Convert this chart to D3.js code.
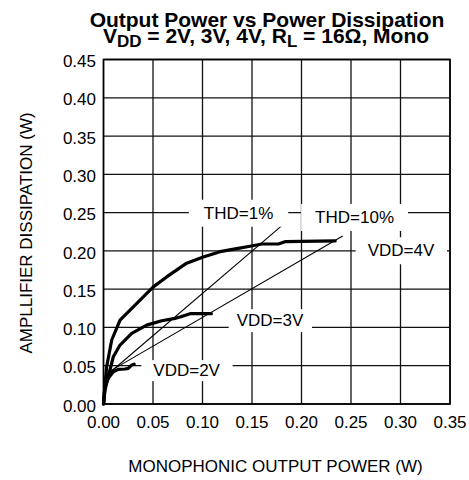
<!DOCTYPE html>
<html>
<head>
<meta charset="utf-8">
<script src="https://cdn.jsdelivr.net/npm/d3@7"></script>
<style>
html,body{margin:0;padding:0;background:#fff;}
text{font-family:"Liberation Sans",Arial,sans-serif;fill:#000;}
</style>
</head>
<body>
<svg id="chart" width="469" height="480"></svg>
<script>
// ---- data ----
const xTicks = [0.00, 0.05, 0.10, 0.15, 0.20, 0.25, 0.30, 0.35];
const yTicks = [0.00, 0.05, 0.10, 0.15, 0.20, 0.25, 0.30, 0.35, 0.40, 0.45];

const vdd4x = [0, 0.0005, 0.0032, 0.0083, 0.0167, 0.0301, 0.0503, 0.0638, 0.084, 0.1008, 0.1177, 0.1345, 0.148, 0.160, 0.1766, 0.1833, 0.234];
const vdd4y = [0, 0.0095, 0.0487, 0.0836, 0.1097, 0.127, 0.153, 0.166, 0.184, 0.192, 0.199, 0.203, 0.206, 0.209, 0.209, 0.212, 0.213];

const vdd3x = [0, 0.0015, 0.0048, 0.0099, 0.0167, 0.0285, 0.0436, 0.0588, 0.0722, 0.0773, 0.0874, 0.109];
const vdd3y = [0, 0.018, 0.0356, 0.0617, 0.077, 0.0923, 0.103, 0.1087, 0.1119, 0.1136, 0.118, 0.118];

const vdd2x = [0, 0.0015, 0.0048, 0.0099, 0.015, 0.0217, 0.025, 0.0285, 0.031];
const vdd2y = [0, 0.0226, 0.0335, 0.0422, 0.0453, 0.0457, 0.0466, 0.0509, 0.052];

const thd1x = [0.0035, 0.1843];
const thd1y = [0.0379, 0.2376];
const thd10x = [0.004, 0.2416];
const thd10y = [0.041, 0.2195];

const labelText = ["THD=1%", "THD=10%", "VDD=4V", "VDD=3V", "VDD=2V"];
const labelX = [0.1364, 0.2536, 0.3005, 0.1682, 0.084];
const labelY = [0.2500, 0.2445, 0.2010, 0.1097, 0.0444];

// ---- chart ----
const svg = d3.select("#chart");
const L = 103.5, R = 450, T = 59.5, B = 404;
const x = d3.scaleLinear().domain([0, 0.35]).range([L, R]);
const y = d3.scaleLinear().domain([0, 0.45]).range([B, T]);
const labelPad = [[15, 8], [14, 8], [12, 8], [8, 4], [12, 2]];

// grid
const g = svg.append("g");
g.selectAll(".vg").data(xTicks).join("line")
  .attr("x1", d => x(d)).attr("x2", d => x(d)).attr("y1", T).attr("y2", B)
  .attr("stroke", "#111").attr("stroke-width", 1.3);
g.selectAll(".hg").data(yTicks).join("line")
  .attr("y1", d => y(d)).attr("y2", d => y(d)).attr("x1", L).attr("x2", R)
  .attr("stroke", "#111").attr("stroke-width", 1.3);
svg.append("rect").attr("x", L).attr("y", T).attr("width", R - L).attr("height", B - T)
  .attr("fill", "none").attr("stroke", "#000").attr("stroke-width", 1.6);

// thin THD lines
const line = d3.line().x(d => x(d[0])).y(d => y(d[1]));
[[thd1x, thd1y], [thd10x, thd10y]].forEach(([xs, ys]) => {
  svg.append("path").datum(xs.map((v, i) => [v, ys[i]]))
    .attr("d", line).attr("fill", "none").attr("stroke", "#000").attr("stroke-width", 1.1);
});

// curves
[[vdd4x, vdd4y], [vdd3x, vdd3y], [vdd2x, vdd2y]].forEach(([xs, ys]) => {
  svg.append("path").datum(xs.map((v, i) => [v, ys[i]]))
    .attr("d", line).attr("fill", "none").attr("stroke", "#000")
    .attr("stroke-width", 3.2).attr("stroke-linejoin", "round").attr("stroke-linecap", "round");
});

// labels with white backgrounds
labelText.forEach((txt, i) => {
  const t = svg.append("text").attr("x", x(labelX[i])).attr("y", y(labelY[i]))
    .attr("text-anchor", "middle").attr("dy", "0.36em")
    .style("font-size", "17px").text(txt);
  const bb = t.node().getBBox();
  const p = labelPad[i];
  svg.insert("rect", function(){ return t.node(); })
    .attr("x", bb.x - p[0]).attr("y", bb.y - p[1] / 2)
    .attr("width", bb.width + 2 * p[0]).attr("height", bb.height + p[1])
    .attr("fill", "#fff");
});

// axes tick labels
svg.selectAll(".xt").data(xTicks).join("text")
  .attr("x", d => x(d)).attr("y", 428).attr("text-anchor", "middle")
  .style("font-size", "17px").text(d => d3.format(".2f")(d));
svg.selectAll(".yt").data(yTicks).join("text")
  .attr("x", 96).attr("y", d => y(d)).attr("dy", "0.45em").attr("text-anchor", "end")
  .style("font-size", "17px").text(d => d3.format(".2f")(d));

// axis titles
svg.append("text").attr("x", 275.5).attr("y", 472).attr("text-anchor", "middle")
  .style("font-size", "17px").text("MONOPHONIC OUTPUT POWER (W)");
svg.append("text").attr("transform", "translate(32,233) rotate(-90)").attr("text-anchor", "middle")
  .style("font-size", "17px").text("AMPLLIFIER DISSIPATION (W)");

// title (one text element, two lines)
const tt = svg.append("text").attr("text-anchor", "middle")
  .style("font-size", "21px").style("font-weight", "bold");
tt.append("tspan").attr("x", 267).attr("y", 27).text("Output Power vs Power Dissipation");
const l2 = tt.append("tspan").attr("x", 266).attr("y", 43);
l2.append("tspan").text("V");
tt.append("tspan").attr("dy", 4).style("font-size", "17px").text("DD");
tt.append("tspan").attr("dy", -4).text(" = 2V, 3V, 4V, R");
tt.append("tspan").attr("dy", 4).style("font-size", "17px").text("L");
tt.append("tspan").attr("dy", -4).text(" = 16Ω, Mono");
</script>
</body>
</html>
